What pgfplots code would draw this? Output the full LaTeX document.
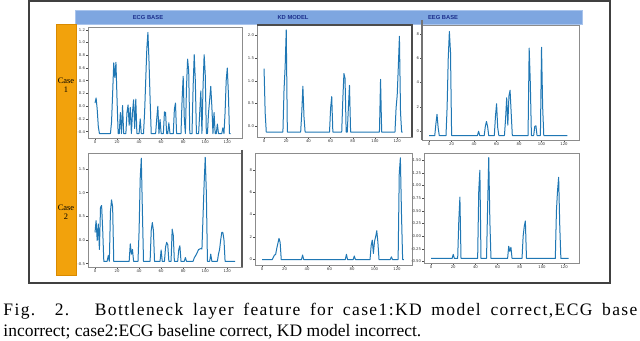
\documentclass[border=0pt]{standalone}
\usepackage{fontspec}
\setmainfont{Liberation Serif}
\newfontfamily\hdrfont{Liberation Sans}
\newfontfamily\tickfont{DejaVu Sans}
\newfontfamily\capwide[LetterSpace=8]{Liberation Serif}
\usepackage{pgfplots}
\pgfplotsset{compat=1.18}

\definecolor{mplblue}{HTML}{1F77B4}
\definecolor{hdrblue}{HTML}{7EA6E0}
\definecolor{hdredge}{HTML}{A9C4EC}
\definecolor{hdrtext}{HTML}{1C2F8C}
\definecolor{casefill}{HTML}{F2A20C}
\definecolor{caseedge}{HTML}{D98A00}

\pgfplotsset{
  panel/.style={
    anchor=north west, scale only axis,
    xmin=-6.35, xmax=133.35, xtick={0,20,...,120},
    tick pos=left, tick align=outside,
    major tick length=0.8pt,
    tick style={black!70, line width=0.25pt},
    axis line style={black!45, line width=0.35pt},
    ticklabel style={font=\tickfont\fontsize{1.9}{2.2}\selectfont, inner sep=0.5pt, text=black!80},
    /pgf/number format/assume math mode=true,
  },
  feat/.style={mplblue, line width=0.5pt, line join=round},
}

\begin{document}
\begin{tikzpicture}
% white page
\fill[white] (0,0) rectangle (320pt,-170.5pt);
% outer frame
\draw[black!75, line width=0.8pt] (14.5pt,-0.5pt) rectangle (305pt,-141.5pt);
% header bar
\draw[hdredge, fill=hdrblue, line width=0.4pt] (37.5pt,-5pt) rectangle (291pt,-12pt);
\foreach \xx/\lab in {74/ECG BASE, 146.5/KD MODEL, 221.5/EEG BASE}
  \node[text=hdrtext, font=\hdrfont\bfseries\fontsize{2.9}{3.2}\selectfont, inner sep=0pt] at (\xx pt,-8.6pt) {\lab};
% side bar
\draw[caseedge, fill=casefill, line width=0.4pt] (28pt,-12pt) rectangle (38pt,-137.5pt);
\node[font=\fontsize{4.2}{4.6}\selectfont, align=center, inner sep=0pt] at (33pt,-42.5pt) {Case\\1};
\node[font=\fontsize{4.2}{4.6}\selectfont, align=center, inner sep=0pt] at (33pt,-106pt) {Case\\2};

% ---- case 1, ECG base
\begin{axis}[panel, at={(44pt,-13.5pt)}, width=77pt, height=55.5pt,
  ymin=-0.50, ymax=1.245, ytick={-0.4,-0.2,...,1.21},
  yticklabel style={/pgf/number format/.cd, fixed, fixed zerofill, precision=1}]
\addplot[feat] coordinates {
(0,0.05)(1,0.13)(2,-0.05)(3,-0.32)(4,-0.43)(14,-0.43)(15,-0.25)(16,0.2)(17,0.68)(18,0.45)
(19,0.69)(20,0.1)(21,-0.43)(22,-0.43)(23,-0.1)(24,-0.43)(25,0.01)(26,-0.43)(28,-0.43)(29,-0.1)
(30,0.02)(31,-0.3)(32,-0.02)(33,-0.43)(34,-0.1)(35,0.1)(36,-0.35)(37,0.11)(38,-0.43)(40,-0.43)
(41,-0.2)(42,-0.43)(44,-0.43)(45,-0.1)(46,0.4)(47,0.9)(48,1.16)(49,0.7)(50,0.1)(51,-0.43)
(55,-0.43)(56,-0.2)(57,0.0)(58,-0.43)(59,-0.21)(60,-0.43)(62,-0.43)(63,-0.09)(64,-0.1)(65,-0.43)
(66,-0.43)(67,-0.26)(68,-0.43)(71,-0.43)(72,-0.05)(73,0.05)(74,-0.43)(78,-0.43)(79,0.1)(80,0.47)
(81,-0.2)(82,-0.43)(83,0.3)(84,0.74)(85,0.55)(86,-0.43)(88,-0.43)(89,0.3)(90,0.81)(91,0.4)
(92,-0.43)(94,-0.43)(95,-0.1)(96,0.24)(97,-0.43)(98,0.3)(99,0.81)(100,0.5)(101,-0.43)(102,-0.43)
(103,-0.1)(104,0.1)(105,0.31)(106,0.0)(107,-0.43)(108,-0.1)(109,-0.43)(110,-0.43)(111,-0.28)(112,-0.43)
(115,-0.43)(116,-0.34)(117,-0.43)(118,-0.1)(119,0.4)(120,0.6)(121,0.2)(122,-0.43)(123,-0.43)
};
\end{axis}

% ---- case 1, KD model
\begin{axis}[panel, at={(128.5pt,-12.5pt)}, width=77.5pt, height=56pt,
  ymin=-0.24, ymax=2.23, ytick={0,0.5,...,2.01},
  yticklabel style={/pgf/number format/.cd, fixed, fixed zerofill, precision=1}]
\addplot[feat] coordinates {
(0,1.27)(1,0.3)(2,-0.13)(17,-0.13)(18,0.8)(19,1.3)(20,2.12)(21,-0.13)(33,-0.13)(34,0.3)
(35,0.88)(36,0.2)(37,-0.13)(59,-0.13)(60,0.4)(61,0.65)(62,-0.13)(70,-0.13)(71,0.6)(72,1.16)
(73,1.05)(74,-0.13)(75,-0.13)(76,0.4)(77,0.9)(78,-0.13)(104,-0.13)(105,1.03)(106,-0.13)(118,-0.13)
(119,0.4)(120,0.68)(121,1.3)(122,1.98)(123,0.3)(124,-0.13)(125,-0.13)
};
\end{axis}

% ---- case 1, EEG base
\begin{axis}[panel, at={(211pt,-12.5pt)}, width=78.5pt, height=57.5pt,
  ymin=-0.72, ymax=8.73, ytick={0,2,...,8}]
\addplot[feat] coordinates {
(0,-0.35)(5,-0.35)(6,0.6)(7,1.39)(8,0.3)(9,-0.35)(15,-0.35)(16,2.0)(17,6.0)(18,8.2)
(19,6.5)(20,-0.35)(43,-0.35)(44,0.0)(45,-0.35)(49,-0.35)(50,0.4)(51,0.8)(52,0.4)(53,-0.35)
(58,-0.35)(59,1.2)(60,2.26)(61,0.3)(62,-0.35)(67,-0.35)(68,1.0)(69,2.75)(70,0.5)(71,2.9)
(72,3.37)(73,1.5)(74,-0.35)(88,-0.35)(89,6.83)(90,4.0)(91,-0.35)(93,-0.35)(94,0.4)(95,0.45)
(96,-0.35)(99,-0.35)(100,6.9)(101,2.0)(102,-0.35)(123,-0.35)
};
\end{axis}

% ---- case 2, ECG base
\begin{axis}[panel, at={(44pt,-76.5pt)}, width=77pt, height=57pt,
  ymin=-0.57, ymax=1.84, ytick={-0.5,0,...,1.51},
  yticklabel style={/pgf/number format/.cd, fixed, fixed zerofill, precision=1}]
\addplot[feat] coordinates {
(0,0.16)(1,0.41)(2,-0.01)(3,0.34)(4,-0.2)(5,0.69)(6,0.73)(7,0.2)(8,-0.45)(11,-0.45)
(12,-0.33)(13,-0.45)(14,0.6)(15,0.85)(16,0.7)(17,-0.45)(31,-0.45)(32,-0.08)(33,-0.3)(34,-0.2)
(35,-0.45)(39,-0.45)(40,0.2)(41,1.3)(42,1.73)(43,0.6)(44,-0.45)(50,-0.45)(51,0.2)(52,0.37)
(53,0.2)(54,-0.45)(59,-0.45)(60,-0.21)(61,-0.45)(63,-0.45)(64,-0.15)(65,-0.05)(66,-0.1)(67,-0.45)
(69,-0.45)(70,0.23)(71,0.1)(72,-0.45)(75,-0.45)(76,-0.2)(77,-0.12)(78,-0.45)(81,-0.45)(82,-0.37)
(83,-0.45)(89,-0.45)(90,-0.38)(92,-0.3)(94,-0.2)(95,-0.19)(96,-0.18)(97,-0.19)(98,0.5)(99,1.2)
(100,1.75)(101,1.0)(102,-0.45)(104,-0.45)(105,-0.3)(106,-0.45)(111,-0.45)(112,-0.3)(113,-0.2)(114,0.0)
(115,0.16)(116,0.16)(117,0.0)(118,-0.45)(127,-0.45)
};
\end{axis}

% ---- case 2, KD model
\begin{axis}[panel, at={(127.5pt,-76.5pt)}, width=78.5pt, height=56pt,
  ymin=-0.54, ymax=9.53, ytick={0,2,...,8}]
\addplot[feat] coordinates {
(0,-0.05)(9,-0.05)(10,0.15)(11,0.36)(12,0.4)(13,0.95)(14,1.4)(15,1.85)(16,1.5)(17,-0.05)
(35,-0.05)(36,0.36)(37,-0.05)(74,-0.05)(75,0.42)(76,-0.05)(81,-0.05)(82,0.27)(83,-0.05)(96,-0.05)
(97,1.2)(98,1.7)(99,0.5)(100,1.6)(101,2.0)(102,2.54)(103,1.5)(104,-0.05)(114,-0.05)(115,0.2)
(116,-0.05)(121,-0.05)(122,7.67)(123,9.1)(124,4.0)(125,-0.05)(126,-0.05)
};
\end{axis}

% ---- case 2, EEG base
\begin{axis}[panel, at={(212pt,-76.5pt)}, width=77.5pt, height=55pt,
  ymin=-0.53, ymax=1.64, ytick={-0.5,-0.25,...,1.51},
  yticklabel style={/pgf/number format/.cd, fixed, fixed zerofill, precision=2}]
\addplot[feat] coordinates {
(0,-0.44)(19,-0.44)(20,-0.36)(21,-0.44)(24,-0.44)(25,0.3)(26,0.77)(27,-0.44)(42,-0.44)(43,0.9)
(44,1.3)(45,-0.44)(50,-0.44)(51,0.6)(52,1.55)(53,0.3)(54,-0.44)(69,-0.44)(70,-0.2)(71,-0.3)
(72,-0.22)(73,-0.44)(82,-0.44)(83,0.0)(84,0.19)(85,0.3)(86,-0.44)(112,-0.44)(113,0.5)(114,0.9)
(115,1.16)(116,0.2)(117,-0.44)(124,-0.44)
};
\end{axis}

% screenshot edges
\draw[black!70, line width=0.7pt] (128.5pt,-12.5pt) -- (206pt,-12.5pt) -- (206pt,-68.5pt);
\draw[black!65, line width=0.7pt] (121pt,-75pt) -- (121pt,-133.5pt);
\draw[black!55, line width=0.6pt] (211pt,-10pt) -- (211pt,-70pt);

% caption
\node[anchor=base west, inner sep=0pt, font=\capwide\fontsize{8.75}{10.5}\selectfont] at (1.5pt,-157.5pt)
  {\makebox[317pt][s]{Fig. 2.\hspace{3pt} Bottleneck layer feature for case1:KD model correct,ECG base}};
\node[anchor=base west, inner sep=0pt, font=\fontsize{8.75}{10.5}\selectfont] at (1.5pt,-168pt)
  {incorrect; case2:ECG baseline correct, KD model incorrect.};

\pgfresetboundingbox
\useasboundingbox (0,0) rectangle (320pt,-170.5pt);
\end{tikzpicture}
\end{document}
